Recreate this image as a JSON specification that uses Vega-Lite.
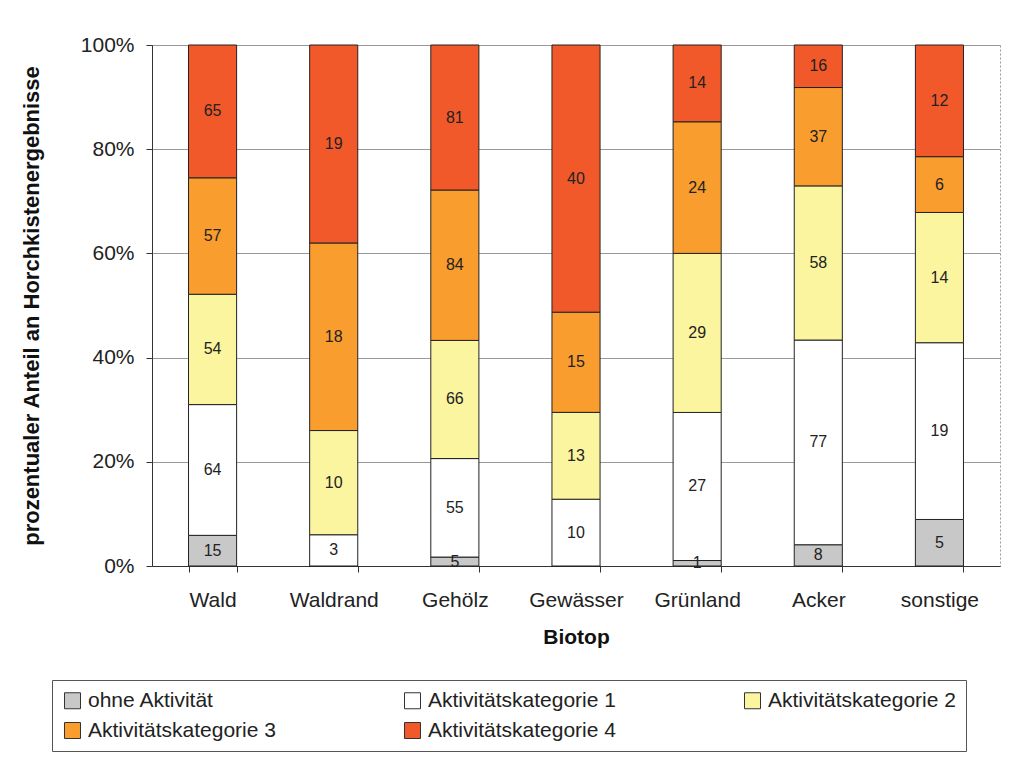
{
  "$schema": "https://vega.github.io/schema/vega-lite/v6.json",
  "autosize": "none",
  "width": 848,
  "height": 521,
  "padding": {"left": 152, "top": 45, "right": 32, "bottom": 207},
  "background": "white",
  "config": {
    "font": "Liberation Sans",
    "view": {"stroke": "#999999", "strokeWidth": 1, "strokeDash": [2, 2]}
  },
  "data": {
    "values": [
      {"Biotop": "Wald", "Kategorie": "ohne Aktivität", "order": 0, "n": 15},
      {"Biotop": "Wald", "Kategorie": "Aktivitätskategorie 1", "order": 1, "n": 64},
      {"Biotop": "Wald", "Kategorie": "Aktivitätskategorie 2", "order": 2, "n": 54},
      {"Biotop": "Wald", "Kategorie": "Aktivitätskategorie 3", "order": 3, "n": 57},
      {"Biotop": "Wald", "Kategorie": "Aktivitätskategorie 4", "order": 4, "n": 65},
      {"Biotop": "Waldrand", "Kategorie": "ohne Aktivität", "order": 0, "n": 0},
      {"Biotop": "Waldrand", "Kategorie": "Aktivitätskategorie 1", "order": 1, "n": 3},
      {"Biotop": "Waldrand", "Kategorie": "Aktivitätskategorie 2", "order": 2, "n": 10},
      {"Biotop": "Waldrand", "Kategorie": "Aktivitätskategorie 3", "order": 3, "n": 18},
      {"Biotop": "Waldrand", "Kategorie": "Aktivitätskategorie 4", "order": 4, "n": 19},
      {"Biotop": "Gehölz", "Kategorie": "ohne Aktivität", "order": 0, "n": 5},
      {"Biotop": "Gehölz", "Kategorie": "Aktivitätskategorie 1", "order": 1, "n": 55},
      {"Biotop": "Gehölz", "Kategorie": "Aktivitätskategorie 2", "order": 2, "n": 66},
      {"Biotop": "Gehölz", "Kategorie": "Aktivitätskategorie 3", "order": 3, "n": 84},
      {"Biotop": "Gehölz", "Kategorie": "Aktivitätskategorie 4", "order": 4, "n": 81},
      {"Biotop": "Gewässer", "Kategorie": "ohne Aktivität", "order": 0, "n": 0},
      {"Biotop": "Gewässer", "Kategorie": "Aktivitätskategorie 1", "order": 1, "n": 10},
      {"Biotop": "Gewässer", "Kategorie": "Aktivitätskategorie 2", "order": 2, "n": 13},
      {"Biotop": "Gewässer", "Kategorie": "Aktivitätskategorie 3", "order": 3, "n": 15},
      {"Biotop": "Gewässer", "Kategorie": "Aktivitätskategorie 4", "order": 4, "n": 40},
      {"Biotop": "Grünland", "Kategorie": "ohne Aktivität", "order": 0, "n": 1},
      {"Biotop": "Grünland", "Kategorie": "Aktivitätskategorie 1", "order": 1, "n": 27},
      {"Biotop": "Grünland", "Kategorie": "Aktivitätskategorie 2", "order": 2, "n": 29},
      {"Biotop": "Grünland", "Kategorie": "Aktivitätskategorie 3", "order": 3, "n": 24},
      {"Biotop": "Grünland", "Kategorie": "Aktivitätskategorie 4", "order": 4, "n": 14},
      {"Biotop": "Acker", "Kategorie": "ohne Aktivität", "order": 0, "n": 8},
      {"Biotop": "Acker", "Kategorie": "Aktivitätskategorie 1", "order": 1, "n": 77},
      {"Biotop": "Acker", "Kategorie": "Aktivitätskategorie 2", "order": 2, "n": 58},
      {"Biotop": "Acker", "Kategorie": "Aktivitätskategorie 3", "order": 3, "n": 37},
      {"Biotop": "Acker", "Kategorie": "Aktivitätskategorie 4", "order": 4, "n": 16},
      {"Biotop": "sonstige", "Kategorie": "ohne Aktivität", "order": 0, "n": 5},
      {"Biotop": "sonstige", "Kategorie": "Aktivitätskategorie 1", "order": 1, "n": 19},
      {"Biotop": "sonstige", "Kategorie": "Aktivitätskategorie 2", "order": 2, "n": 14},
      {"Biotop": "sonstige", "Kategorie": "Aktivitätskategorie 3", "order": 3, "n": 6},
      {"Biotop": "sonstige", "Kategorie": "Aktivitätskategorie 4", "order": 4, "n": 12}
    ]
  },
  "transform": [
    {"stack": "n", "groupby": ["Biotop"], "sort": [{"field": "order", "order": "ascending"}], "offset": "normalize", "as": ["y0", "y1"]},
    {"calculate": "(datum.y0 + datum.y1) / 2", "as": "ymid"}
  ],
  "encoding": {
    "x": {
      "field": "Biotop",
      "type": "nominal",
      "sort": ["Wald", "Waldrand", "Gehölz", "Gewässer", "Grünland", "Acker", "sonstige"],
      "scale": {"paddingInner": 0.603, "paddingOuter": 0.3015},
      "axis": {
        "title": "Biotop",
        "titleFontSize": 21,
        "titleFontWeight": "bold",
        "titleColor": "#111111",
        "titlePadding": 16,
        "labelAngle": 0,
        "labelFontSize": 21,
        "labelColor": "#222222",
        "labelPadding": 17,
        "tickBand": "extent",
        "tickSize": 6,
        "tickColor": "#333333",
        "domainColor": "#333333",
        "grid": false
      }
    }
  },
  "layer": [
    {
      "mark": {"type": "bar", "stroke": "#222222", "strokeWidth": 1},
      "encoding": {
        "y": {
          "field": "y0",
          "type": "quantitative",
          "scale": {"domain": [0, 1]},
          "axis": {
            "title": "prozentualer Anteil an Horchkistenergebnisse",
            "titleFontSize": 22,
            "titleFontWeight": "bold",
            "titleColor": "#111111",
            "titlePadding": 37,
            "values": [0, 0.2, 0.4, 0.6, 0.8, 1],
            "format": ".0%",
            "labelFontSize": 21,
            "labelColor": "#222222",
            "labelPadding": 12,
            "tickSize": 6,
            "tickColor": "#333333",
            "domainColor": "#333333",
            "gridColor": "#999999",
            "gridWidth": 1
          }
        },
        "y2": {"field": "y1"},
        "color": {
          "field": "Kategorie",
          "type": "nominal",
          "scale": {
            "domain": ["ohne Aktivität", "Aktivitätskategorie 1", "Aktivitätskategorie 2", "Aktivitätskategorie 3", "Aktivitätskategorie 4"],
            "range": ["#c8c8c8", "#ffffff", "#fcf5a0", "#f99d2e", "#f2592a"]
          },
          "legend": {
            "title": null,
            "orient": "none",
            "legendX": -100,
            "legendY": 635,
            "direction": "horizontal",
            "columns": 3,
            "columnPadding": 126,
            "rowPadding": 8,
            "padding": 10,
            "strokeColor": "#555555",
            "fillColor": "white",
            "symbolType": "square",
            "symbolSize": 256,
            "symbolStrokeColor": "#333333",
            "symbolStrokeWidth": 1,
            "symbolOffset": 0,
            "labelFontSize": 21,
            "labelColor": "#222222",
            "labelOffset": 5,
            "labelLimit": 300
          }
        }
      }
    },
    {
      "transform": [{"filter": "datum.n > 0"}],
      "mark": {"type": "text", "fontSize": 16, "color": "#222222", "baseline": "middle", "align": "center"},
      "encoding": {
        "y": {"field": "ymid", "type": "quantitative"},
        "text": {"field": "n", "type": "quantitative"}
      }
    }
  ]
}
